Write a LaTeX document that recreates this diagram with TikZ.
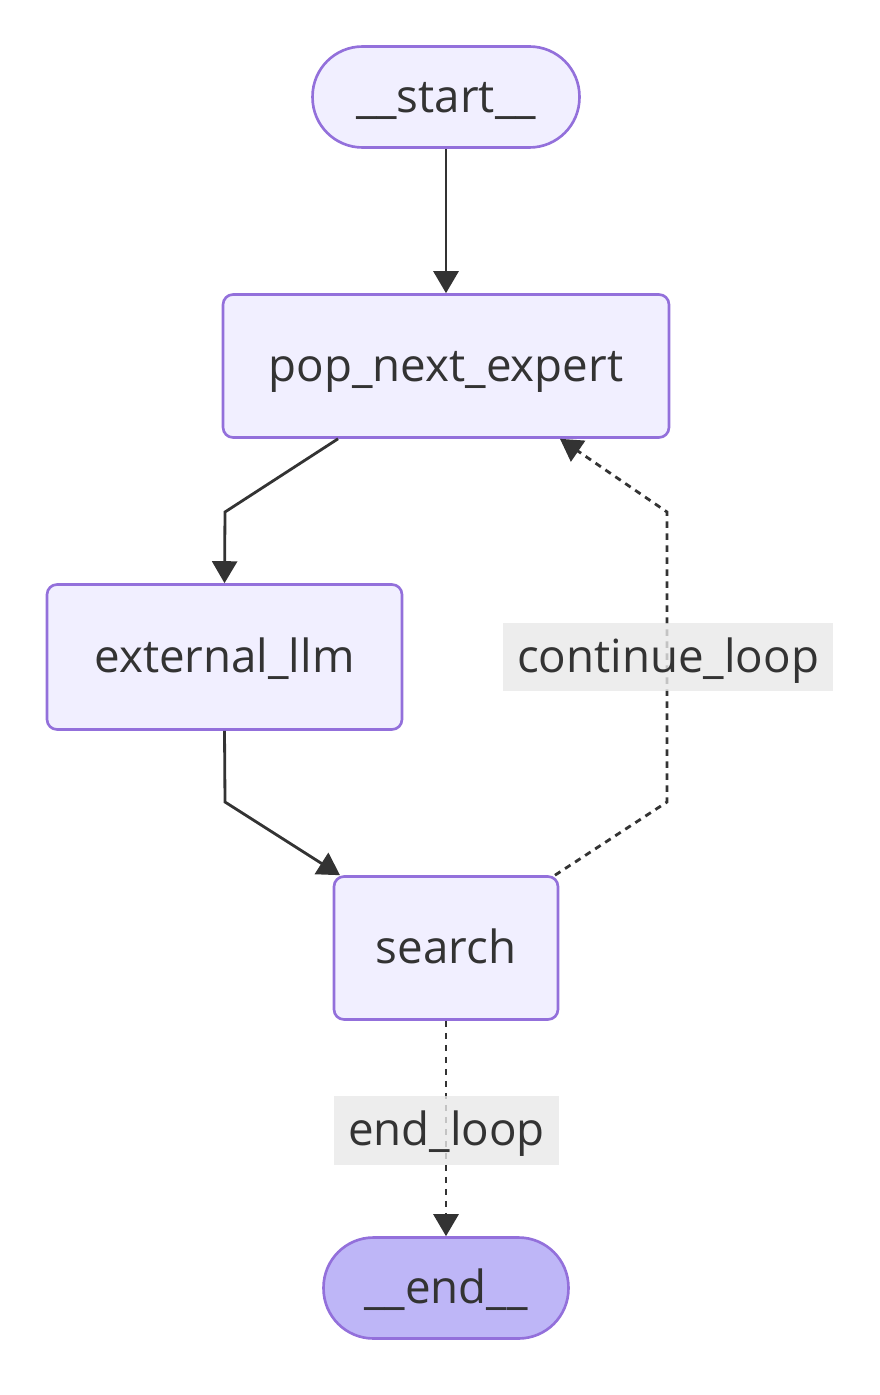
\documentclass[tikz,border=0pt]{standalone}
\usepackage{fontspec}
\setmainfont{Open Sans}
\usetikzlibrary{arrows.meta}
\definecolor{nodefill}{HTML}{F1EFFF}
\definecolor{endfill}{HTML}{BEB6F7}
\definecolor{nodeline}{HTML}{9370DB}
\definecolor{textgray}{HTML}{333333}
\definecolor{labelfill}{HTML}{E8E8E8}
\begin{document}
\begin{tikzpicture}[x=0.02cm, y=-0.02cm,
    font=\fontsize{26}{31}\selectfont,
    box/.style={draw=nodeline, fill=nodefill, line width=1.5pt,
        rounded corners=0.2cm, text=textgray, inner sep=0pt,
        text height=18pt, text depth=0pt},
    term/.style={box, rounded corners=1cm, minimum height=2.02cm},
    flow/.style={line width=1.6pt, draw=textgray,
        -{Triangle[length=0.44cm, width=0.5cm]}},
    cond/.style={flow, dash pattern=on 0.13cm off 0.11cm},
    tag/.style={fill=labelfill, fill opacity=0.8, text opacity=1,
        text=textgray, minimum height=1.38cm, inner xsep=0.29cm,
        text height=18pt, text depth=0pt}]
    \useasboundingbox (0,0) rectangle (879,1395);
    % nodes
    \node[term, minimum width=5.34cm] (start) at (446,97) {\_\_start\_\_};
    \node[box, minimum width=8.92cm, minimum height=2.86cm] (pop) at (446,366) {pop\_next\_expert};
    \node[box, minimum width=7.1cm, minimum height=2.9cm] (ext) at (224.5,657) {external\_llm};
    \node[box, minimum width=4.48cm, minimum height=2.86cm] (search) at (446,948) {search};
    \node[term, fill=endfill, minimum width=4.9cm] (end) at (446,1288) {\_\_end\_\_};
    % bends
    \coordinate (b1) at (225,512);
    \coordinate (b2) at (225,802);
    \coordinate (b3) at (667,802);
    \coordinate (b4) at (667,512);
    % edges
    \draw[flow] (start.south) -- (pop.north);
    \draw[flow] ([xshift=-2.16cm]pop.south) -- (b1) -- (ext.north);
    \draw[flow] (ext.south) -- (b2) -- ([xshift=-2.12cm]search.north);
    \draw[cond] ([xshift=2.18cm]search.north) -- (b3) -- (b4)
        -- ([xshift=2.28cm]pop.south);
    \draw[cond] (search.south) -- (end.north);
    % edge labels
    \node[tag] (lcont) at (668,657) {continue\_loop};
    \node[tag] (lend) at (446.5,1130) {end\_loop};
\end{tikzpicture}
\end{document}
